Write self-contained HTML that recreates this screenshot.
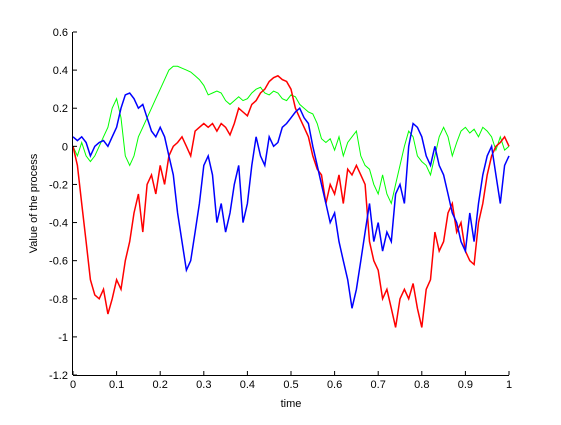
<!DOCTYPE html>
<html><head><meta charset="utf-8"><style>
body{margin:0;background:#fff}
svg text{font-family:"Liberation Sans",sans-serif;font-size:11px;fill:#000}
</style></head><body>
<svg id="chart" width="561" height="420" xmlns="http://www.w3.org/2000/svg"></svg>
<script>
const xTicks=[0,0.1,0.2,0.3,0.4,0.5,0.6,0.7,0.8,0.9,1];
const xTickLabels=["0","0.1","0.2","0.3","0.4","0.5","0.6","0.7","0.8","0.9","1"];
const yTicks=[0.6,0.4,0.2,0,-0.2,-0.4,-0.6,-0.8,-1,-1.2];
const yTickLabels=["0.6","0.4","0.2","0","-0.2","-0.4","-0.6","-0.8","-1","-1.2"];
const redValues=[0,-0.1,-0.3,-0.5,-0.7,-0.78,-0.8,-0.75,-0.88,-0.8,-0.7,-0.75,-0.6,-0.5,-0.35,-0.25,-0.45,-0.2,-0.15,-0.25,-0.1,-0.2,-0.05,0,0.02,0.05,0,-0.05,0.08,0.1,0.12,0.1,0.12,0.08,0.12,0.1,0.06,0.12,0.2,0.18,0.16,0.22,0.24,0.28,0.3,0.34,0.36,0.37,0.35,0.34,0.3,0.2,0.15,0.1,0.05,-0.05,-0.12,-0.15,-0.3,-0.2,-0.25,-0.15,-0.3,-0.12,-0.15,-0.1,-0.15,-0.2,-0.5,-0.6,-0.65,-0.8,-0.75,-0.85,-0.95,-0.8,-0.75,-0.8,-0.72,-0.85,-0.95,-0.75,-0.7,-0.45,-0.55,-0.5,-0.35,-0.3,-0.45,-0.4,-0.55,-0.6,-0.62,-0.4,-0.3,-0.15,-0.05,0,0.02,0.05,0];
const blueValues=[0.05,0.03,0.05,0.02,-0.05,0,0.02,0.03,0,0.05,0.1,0.2,0.27,0.28,0.25,0.2,0.22,0.15,0.08,0.05,0.1,0.05,-0.05,-0.15,-0.35,-0.5,-0.65,-0.6,-0.45,-0.3,-0.1,-0.05,-0.15,-0.4,-0.3,-0.45,-0.35,-0.2,-0.1,-0.4,-0.3,-0.1,0.05,-0.05,-0.1,0.05,0,0.02,0.1,0.12,0.15,0.18,0.2,0.15,0.12,0,-0.1,-0.2,-0.3,-0.4,-0.35,-0.5,-0.6,-0.7,-0.85,-0.75,-0.6,-0.45,-0.3,-0.5,-0.4,-0.55,-0.45,-0.5,-0.25,-0.2,-0.3,0,0.12,0.1,0.05,-0.05,-0.1,0,-0.1,-0.15,-0.25,-0.35,-0.4,-0.5,-0.55,-0.35,-0.5,-0.3,-0.15,-0.05,0,-0.15,-0.3,-0.1,-0.05];
const greenValues=[0,-0.05,0.02,-0.05,-0.08,-0.05,0,0.05,0.1,0.2,0.25,0.15,-0.05,-0.1,-0.05,0.05,0.1,0.15,0.2,0.25,0.3,0.35,0.4,0.42,0.42,0.41,0.4,0.39,0.37,0.35,0.32,0.27,0.28,0.29,0.28,0.24,0.22,0.24,0.26,0.24,0.25,0.28,0.3,0.31,0.28,0.27,0.29,0.28,0.25,0.24,0.27,0.26,0.22,0.2,0.18,0.17,0.12,0.04,0.02,0.04,-0.02,0.05,-0.05,0.02,0.05,0.08,-0.05,-0.1,-0.12,-0.2,-0.25,-0.15,-0.25,-0.3,-0.2,-0.1,0,0.08,0.05,-0.05,-0.08,-0.1,-0.15,-0.05,0.05,0.1,0.05,-0.05,0.02,0.08,0.1,0.07,0.09,0.05,0.1,0.08,0.05,-0.02,0.05,-0.02,0];
const L=73,R=509,T=32,B=375,yMin=-1.2,yMax=0.6;
const sx=v=>L+(v-0)/(1-0)*(R-L);
const sy=v=>B-(v-yMin)/(yMax-yMin)*(B-T);
const svg=document.getElementById('chart');
const NS='http://www.w3.org/2000/svg';
function mk(tag,attrs){const e=document.createElementNS(NS,tag);for(const k in attrs)e.setAttribute(k,attrs[k]);svg.appendChild(e);return e;}
function series(vals,color,name,w){
  const pts=vals.map((v,i)=>sx(i/(vals.length-1)).toFixed(1)+','+sy(v).toFixed(1)).join(' ');
  const p=mk('polyline',{points:pts,fill:'none',stroke:color,'stroke-width':w});
  
  
}
series(greenValues,'#00ff00','green-series',1);
series(redValues,'#ff0000','red-series',1.5);
series(blueValues,'#0000ff','blue-series',1.5);
const xa=mk('line',{x1:L,y1:B+0.5,x2:R,y2:B+0.5,stroke:'#000'});


const ya=mk('line',{x1:L-0.5,y1:T,x2:L-0.5,y2:B,stroke:'#000'});


xTicks.forEach((t,i)=>{
  const x=sx(t);
  mk('line',{x1:x,y1:B,x2:x,y2:B-4,stroke:'#000'});
  const tx=mk('text',{x:x,y:B+13,'text-anchor':'middle'});tx.textContent=xTickLabels[i];
  
  
});
yTicks.forEach((t,i)=>{
  const y=sy(t);
  mk('line',{x1:L,y1:y,x2:L+4,y2:y,stroke:'#000'});
  const tx=mk('text',{x:L-5,y:y+4,'text-anchor':'end'});tx.textContent=yTickLabels[i];
  
  
});
const xt=mk('text',{x:(L+R)/2,y:407,'text-anchor':'middle'});xt.textContent='time';


const yt=mk('text',{x:0,y:0,'text-anchor':'middle',transform:'translate(37,'+((T+B)/2)+') rotate(-90)'});yt.textContent='Value of the process';


</script>
</body></html>
